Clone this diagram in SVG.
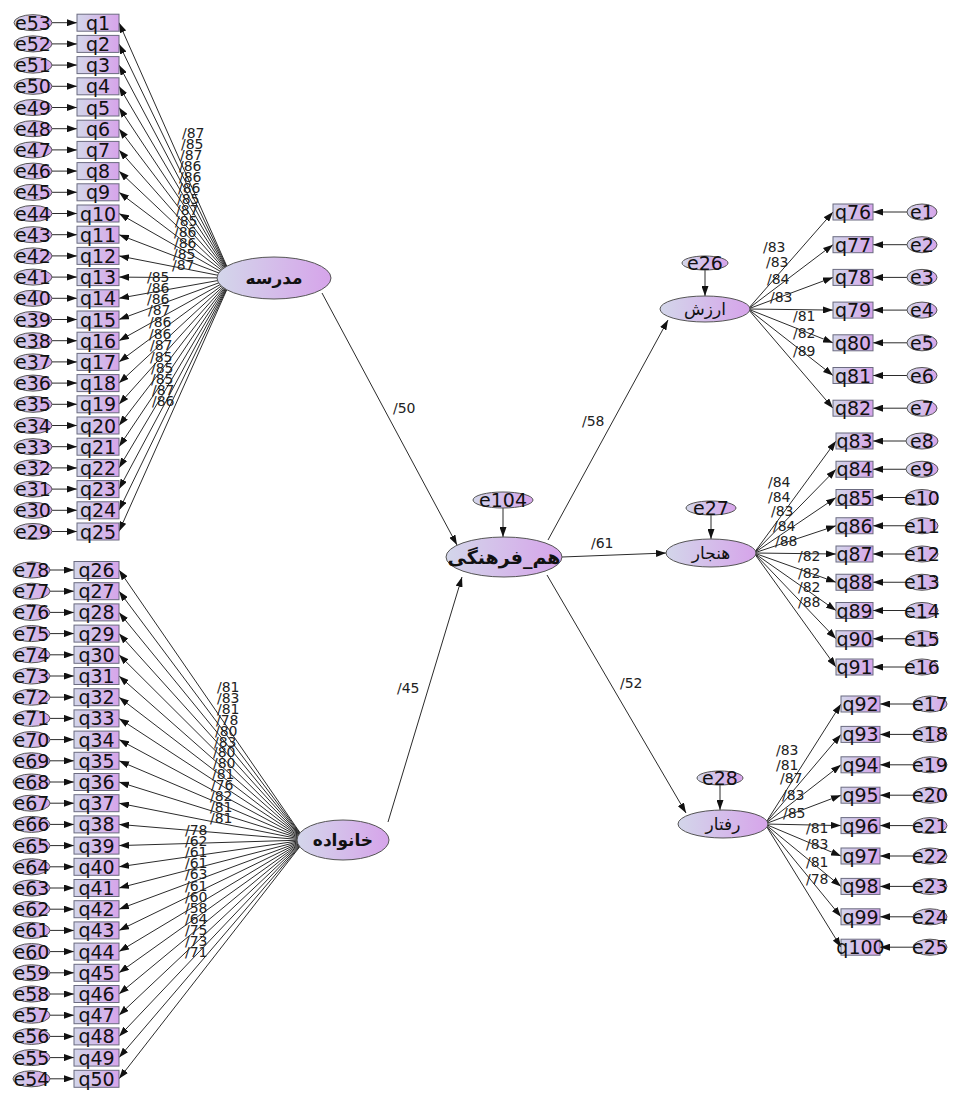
<svg xmlns="http://www.w3.org/2000/svg" width="956" height="1099" viewBox="0 0 956 1099">
<defs>
<linearGradient id="g" x1="0" y1="0" x2="1" y2="0">
<stop offset="0" stop-color="#d3d6ea"/><stop offset="1" stop-color="#d6a4ea"/>
</linearGradient>
<marker id="ah" markerWidth="10" markerHeight="7" refX="10" refY="3.5" orient="auto" markerUnits="userSpaceOnUse"><path d="M0,0L10,3.5L0,7z" fill="#111"/></marker>
</defs>
<style>
.c line{stroke:#2b2b2b;stroke-width:1;marker-end:url(#ah)}
.ob rect{fill:url(#g);stroke:#6b6b80;stroke-width:1}
.ob text,.er text{font-family:"DejaVu Sans",sans-serif;font-size:19px;text-anchor:middle;fill:#111}
.er ellipse,.lv ellipse{fill:url(#g);stroke:#555;stroke-width:1}
.lb text{font-family:"DejaVu Sans",sans-serif;font-size:14px;fill:#222}
.lv text{font-family:"DejaVu Sans",sans-serif;text-anchor:middle;fill:#111}
</style>
<rect width="956" height="1099" fill="#fff"/>
<g id="connectors" class="c">
<!-- top fan -->
<line x1="232" y1="278" x2="119" y2="22.7"/><line x1="232" y1="278" x2="119" y2="43.9"/><line x1="232" y1="278" x2="119" y2="65.1"/><line x1="232" y1="278" x2="119" y2="86.3"/><line x1="232" y1="278" x2="119" y2="107.5"/><line x1="232" y1="278" x2="119" y2="128.7"/><line x1="232" y1="278" x2="119" y2="149.9"/><line x1="232" y1="278" x2="119" y2="171.1"/><line x1="232" y1="278" x2="119" y2="192.3"/><line x1="232" y1="278" x2="119" y2="213.5"/><line x1="232" y1="278" x2="119" y2="234.7"/><line x1="232" y1="278" x2="119" y2="255.9"/><line x1="232" y1="278" x2="119" y2="277.1"/><line x1="232" y1="278" x2="119" y2="298.3"/><line x1="232" y1="278" x2="119" y2="319.5"/><line x1="232" y1="278" x2="119" y2="340.7"/><line x1="232" y1="278" x2="119" y2="361.9"/><line x1="232" y1="278" x2="119" y2="383.1"/><line x1="232" y1="278" x2="119" y2="404.3"/><line x1="232" y1="278" x2="119" y2="425.5"/><line x1="232" y1="278" x2="119" y2="446.7"/><line x1="232" y1="278" x2="119" y2="467.9"/><line x1="232" y1="278" x2="119" y2="489.1"/><line x1="232" y1="278" x2="119" y2="510.3"/><line x1="232" y1="278" x2="119" y2="531.5"/>
<!-- top error arrows -->
<line x1="52" y1="22.7" x2="77" y2="22.7"/><line x1="52" y1="43.9" x2="77" y2="43.9"/><line x1="52" y1="65.1" x2="77" y2="65.1"/><line x1="52" y1="86.3" x2="77" y2="86.3"/><line x1="52" y1="107.5" x2="77" y2="107.5"/><line x1="52" y1="128.7" x2="77" y2="128.7"/><line x1="52" y1="149.9" x2="77" y2="149.9"/><line x1="52" y1="171.1" x2="77" y2="171.1"/><line x1="52" y1="192.3" x2="77" y2="192.3"/><line x1="52" y1="213.5" x2="77" y2="213.5"/><line x1="52" y1="234.7" x2="77" y2="234.7"/><line x1="52" y1="255.9" x2="77" y2="255.9"/><line x1="52" y1="277.1" x2="77" y2="277.1"/><line x1="52" y1="298.3" x2="77" y2="298.3"/><line x1="52" y1="319.5" x2="77" y2="319.5"/><line x1="52" y1="340.7" x2="77" y2="340.7"/><line x1="52" y1="361.9" x2="77" y2="361.9"/><line x1="52" y1="383.1" x2="77" y2="383.1"/><line x1="52" y1="404.3" x2="77" y2="404.3"/><line x1="52" y1="425.5" x2="77" y2="425.5"/><line x1="52" y1="446.7" x2="77" y2="446.7"/><line x1="52" y1="467.9" x2="77" y2="467.9"/><line x1="52" y1="489.1" x2="77" y2="489.1"/><line x1="52" y1="510.3" x2="77" y2="510.3"/><line x1="52" y1="531.5" x2="77" y2="531.5"/>
<!-- bottom fan -->
<line x1="305" y1="840" x2="119" y2="570"/><line x1="305" y1="840" x2="119" y2="591.2"/><line x1="305" y1="840" x2="119" y2="612.4"/><line x1="305" y1="840" x2="119" y2="633.6"/><line x1="305" y1="840" x2="119" y2="654.8"/><line x1="305" y1="840" x2="119" y2="676"/><line x1="305" y1="840" x2="119" y2="697.2"/><line x1="305" y1="840" x2="119" y2="718.4"/><line x1="305" y1="840" x2="119" y2="739.6"/><line x1="305" y1="840" x2="119" y2="760.8"/><line x1="305" y1="840" x2="119" y2="782"/><line x1="305" y1="840" x2="119" y2="803.2"/><line x1="305" y1="840" x2="119" y2="824.4"/><line x1="305" y1="840" x2="119" y2="845.6"/><line x1="305" y1="840" x2="119" y2="866.8"/><line x1="305" y1="840" x2="119" y2="888"/><line x1="305" y1="840" x2="119" y2="909.2"/><line x1="305" y1="840" x2="119" y2="930.4"/><line x1="305" y1="840" x2="119" y2="951.6"/><line x1="305" y1="840" x2="119" y2="972.8"/><line x1="305" y1="840" x2="119" y2="994"/><line x1="305" y1="840" x2="119" y2="1015.2"/><line x1="305" y1="840" x2="119" y2="1036.4"/><line x1="305" y1="840" x2="119" y2="1057.6"/><line x1="305" y1="840" x2="119" y2="1078.8"/>
<!-- bottom error arrows -->
<line x1="50" y1="570" x2="74" y2="570"/><line x1="50" y1="591.2" x2="74" y2="591.2"/><line x1="50" y1="612.4" x2="74" y2="612.4"/><line x1="50" y1="633.6" x2="74" y2="633.6"/><line x1="50" y1="654.8" x2="74" y2="654.8"/><line x1="50" y1="676" x2="74" y2="676"/><line x1="50" y1="697.2" x2="74" y2="697.2"/><line x1="50" y1="718.4" x2="74" y2="718.4"/><line x1="50" y1="739.6" x2="74" y2="739.6"/><line x1="50" y1="760.8" x2="74" y2="760.8"/><line x1="50" y1="782" x2="74" y2="782"/><line x1="50" y1="803.2" x2="74" y2="803.2"/><line x1="50" y1="824.4" x2="74" y2="824.4"/><line x1="50" y1="845.6" x2="74" y2="845.6"/><line x1="50" y1="866.8" x2="74" y2="866.8"/><line x1="50" y1="888" x2="74" y2="888"/><line x1="50" y1="909.2" x2="74" y2="909.2"/><line x1="50" y1="930.4" x2="74" y2="930.4"/><line x1="50" y1="951.6" x2="74" y2="951.6"/><line x1="50" y1="972.8" x2="74" y2="972.8"/><line x1="50" y1="994" x2="74" y2="994"/><line x1="50" y1="1015.2" x2="74" y2="1015.2"/><line x1="50" y1="1036.4" x2="74" y2="1036.4"/><line x1="50" y1="1057.6" x2="74" y2="1057.6"/><line x1="50" y1="1078.8" x2="74" y2="1078.8"/>
<!-- structural paths -->
<line x1="322" y1="293" x2="457" y2="545"/>
<line x1="388" y1="822" x2="462" y2="577"/>
<line x1="548" y1="540" x2="668" y2="320"/>
<line x1="562" y1="557" x2="666" y2="553"/>
<line x1="547" y1="575" x2="686" y2="813"/>
<line x1="503" y1="508" x2="503" y2="537"/>
<line x1="705" y1="270" x2="705" y2="296"/>
<line x1="711" y1="515" x2="711" y2="539"/>
<line x1="720" y1="785" x2="720" y2="810"/>
<!-- right fan 1 -->
<line x1="748" y1="309" x2="833" y2="212"/><line x1="748" y1="309" x2="833" y2="244.7"/><line x1="748" y1="309" x2="833" y2="277.4"/><line x1="748" y1="309" x2="833" y2="310.1"/><line x1="748" y1="309" x2="833" y2="342.8"/><line x1="748" y1="309" x2="833" y2="375.5"/><line x1="748" y1="309" x2="833" y2="408.2"/>
<line x1="907" y1="212" x2="873" y2="212"/><line x1="907" y1="244.7" x2="873" y2="244.7"/><line x1="907" y1="277.4" x2="873" y2="277.4"/><line x1="907" y1="310.1" x2="873" y2="310.1"/><line x1="907" y1="342.8" x2="873" y2="342.8"/><line x1="907" y1="375.5" x2="873" y2="375.5"/><line x1="907" y1="408.2" x2="873" y2="408.2"/>
<!-- right fan 2 -->
<line x1="754" y1="553" x2="836" y2="441"/><line x1="754" y1="553" x2="836" y2="469.25"/><line x1="754" y1="553" x2="836" y2="497.5"/><line x1="754" y1="553" x2="836" y2="525.75"/><line x1="754" y1="553" x2="836" y2="554"/><line x1="754" y1="553" x2="836" y2="582.25"/><line x1="754" y1="553" x2="836" y2="610.5"/><line x1="754" y1="553" x2="836" y2="638.75"/><line x1="754" y1="553" x2="836" y2="667"/>
<line x1="906" y1="441" x2="873" y2="441"/><line x1="906" y1="469.25" x2="873" y2="469.25"/><line x1="906" y1="497.5" x2="873" y2="497.5"/><line x1="906" y1="525.75" x2="873" y2="525.75"/><line x1="906" y1="554" x2="873" y2="554"/><line x1="906" y1="582.25" x2="873" y2="582.25"/><line x1="906" y1="610.5" x2="873" y2="610.5"/><line x1="906" y1="638.75" x2="873" y2="638.75"/><line x1="906" y1="667" x2="873" y2="667"/>
<!-- right fan 3 -->
<line x1="765" y1="824" x2="841" y2="704"/><line x1="765" y1="824" x2="841" y2="734.4"/><line x1="765" y1="824" x2="841" y2="764.8"/><line x1="765" y1="824" x2="841" y2="795.2"/><line x1="765" y1="824" x2="841" y2="825.6"/><line x1="765" y1="824" x2="841" y2="856"/><line x1="765" y1="824" x2="841" y2="886.4"/><line x1="765" y1="824" x2="841" y2="916.8"/><line x1="765" y1="824" x2="841" y2="947.2"/>
<line x1="913" y1="704" x2="880" y2="704"/><line x1="913" y1="734.4" x2="880" y2="734.4"/><line x1="913" y1="764.8" x2="880" y2="764.8"/><line x1="913" y1="795.2" x2="880" y2="795.2"/><line x1="913" y1="825.6" x2="880" y2="825.6"/><line x1="913" y1="856" x2="880" y2="856"/><line x1="913" y1="886.4" x2="880" y2="886.4"/><line x1="913" y1="916.8" x2="880" y2="916.8"/><line x1="913" y1="947.2" x2="880" y2="947.2"/>
<g class="lb">
<text x="182" y="138">/87</text><text x="181" y="149">/85</text><text x="180" y="160">/87</text><text x="179" y="171">/86</text><text x="179" y="182">/86</text><text x="178" y="193">/86</text><text x="177" y="204">/85</text><text x="176" y="215">/87</text><text x="175" y="226">/85</text><text x="174" y="237">/86</text><text x="174" y="248">/86</text><text x="173" y="259">/85</text><text x="172" y="270">/87</text>
<text x="147" y="282">/85</text><text x="147" y="293">/86</text><text x="147" y="304">/86</text><text x="148" y="315">/87</text><text x="149" y="327">/86</text><text x="149" y="339">/86</text><text x="150" y="350">/87</text><text x="150" y="362">/85</text><text x="151" y="373">/85</text><text x="151" y="384">/85</text><text x="152" y="395">/87</text><text x="152" y="406">/86</text>
<text x="217" y="692">/81</text><text x="217" y="703">/83</text><text x="217" y="714">/81</text><text x="216" y="725">/78</text><text x="215" y="736">/80</text><text x="214" y="747">/83</text><text x="213" y="757">/80</text><text x="213" y="768">/80</text><text x="212" y="779">/81</text><text x="211" y="790">/76</text><text x="210" y="801">/82</text><text x="210" y="812">/81</text><text x="210" y="823">/81</text>
<text x="185" y="835">/78</text><text x="185" y="846">/62</text><text x="185" y="857">/61</text><text x="185" y="868">/61</text><text x="185" y="879">/63</text><text x="185" y="891">/61</text><text x="185" y="902">/60</text><text x="185" y="913">/58</text><text x="185" y="924">/64</text><text x="185" y="935">/75</text><text x="185" y="946">/73</text><text x="185" y="957">/71</text>
<text x="393" y="413">/50</text><text x="397" y="693">/45</text><text x="582" y="426">/58</text><text x="591" y="548">/61</text><text x="620" y="688">/52</text>
<text x="763" y="252">/83</text><text x="766" y="267">/83</text><text x="767" y="284">/84</text><text x="770" y="302">/83</text><text x="793" y="321">/81</text><text x="793" y="338">/82</text><text x="793" y="356">/89</text>
<text x="768" y="487">/84</text><text x="768" y="502">/84</text><text x="771" y="516">/83</text><text x="773" y="531">/84</text><text x="775" y="546">/88</text><text x="798" y="561">/82</text><text x="798" y="578">/82</text><text x="798" y="592">/82</text><text x="798" y="607">/88</text>
<text x="776" y="755">/83</text><text x="776" y="770">/81</text><text x="780" y="783">/87</text><text x="782" y="800">/83</text><text x="783" y="818">/85</text><text x="806" y="833">/81</text><text x="806" y="849">/83</text><text x="806" y="867">/81</text><text x="806" y="884">/78</text>
</g>
</g>
<!-- latent variables -->
<g id="madrese" class="lv"><ellipse cx="274" cy="278" rx="57" ry="21"/><text x="274" y="284" font-size="17" font-weight="bold">مدرسه</text></g>
<g id="khanevade" class="lv"><ellipse cx="343" cy="840" rx="46" ry="20"/><text x="343" y="846" font-size="17" font-weight="bold">خانواده</text></g>
<g id="hamfarhangi" class="lv"><ellipse cx="504" cy="557" rx="58" ry="20"/><text x="504" y="564" font-size="19" font-weight="bold">هم_فرهنگی</text></g>
<g id="arzesh" class="lv"><ellipse cx="705" cy="309" rx="45" ry="13"/><text x="705" y="315" font-size="17">ارزش</text></g>
<g id="hanjar" class="lv"><ellipse cx="711" cy="553" rx="45" ry="14"/><text x="711" y="559" font-size="17">هنجار</text></g>
<g id="raftar" class="lv"><ellipse cx="723" cy="824" rx="45" ry="14"/><text x="723" y="830" font-size="17">رفتار</text></g>
<g id="e104" class="er"><ellipse cx="503" cy="500" rx="30" ry="8"/><text x="503" y="507">e104</text></g>
<g id="e26" class="er"><ellipse cx="705" cy="263" rx="23" ry="7"/><text x="705" y="270">e26</text></g>
<g id="e27" class="er"><ellipse cx="711" cy="508" rx="25" ry="7"/><text x="711" y="515">e27</text></g>
<g id="e28" class="er"><ellipse cx="720" cy="778" rx="23" ry="7"/><text x="720" y="785">e28</text></g>
<!-- top observed -->
<g id="q1" class="ob" transform="translate(77,22.7)"><rect y="-8.5" width="42" height="17"/><text x="21" y="7">q1</text></g>
<g id="q2" class="ob" transform="translate(77,43.9)"><rect y="-8.5" width="42" height="17"/><text x="21" y="7">q2</text></g>
<g id="q3" class="ob" transform="translate(77,65.1)"><rect y="-8.5" width="42" height="17"/><text x="21" y="7">q3</text></g>
<g id="q4" class="ob" transform="translate(77,86.3)"><rect y="-8.5" width="42" height="17"/><text x="21" y="7">q4</text></g>
<g id="q5" class="ob" transform="translate(77,107.5)"><rect y="-8.5" width="42" height="17"/><text x="21" y="7">q5</text></g>
<g id="q6" class="ob" transform="translate(77,128.7)"><rect y="-8.5" width="42" height="17"/><text x="21" y="7">q6</text></g>
<g id="q7" class="ob" transform="translate(77,149.9)"><rect y="-8.5" width="42" height="17"/><text x="21" y="7">q7</text></g>
<g id="q8" class="ob" transform="translate(77,171.1)"><rect y="-8.5" width="42" height="17"/><text x="21" y="7">q8</text></g>
<g id="q9" class="ob" transform="translate(77,192.3)"><rect y="-8.5" width="42" height="17"/><text x="21" y="7">q9</text></g>
<g id="q10" class="ob" transform="translate(77,213.5)"><rect y="-8.5" width="42" height="17"/><text x="21" y="7">q10</text></g>
<g id="q11" class="ob" transform="translate(77,234.7)"><rect y="-8.5" width="42" height="17"/><text x="21" y="7">q11</text></g>
<g id="q12" class="ob" transform="translate(77,255.9)"><rect y="-8.5" width="42" height="17"/><text x="21" y="7">q12</text></g>
<g id="q13" class="ob" transform="translate(77,277.1)"><rect y="-8.5" width="42" height="17"/><text x="21" y="7">q13</text></g>
<g id="q14" class="ob" transform="translate(77,298.3)"><rect y="-8.5" width="42" height="17"/><text x="21" y="7">q14</text></g>
<g id="q15" class="ob" transform="translate(77,319.5)"><rect y="-8.5" width="42" height="17"/><text x="21" y="7">q15</text></g>
<g id="q16" class="ob" transform="translate(77,340.7)"><rect y="-8.5" width="42" height="17"/><text x="21" y="7">q16</text></g>
<g id="q17" class="ob" transform="translate(77,361.9)"><rect y="-8.5" width="42" height="17"/><text x="21" y="7">q17</text></g>
<g id="q18" class="ob" transform="translate(77,383.1)"><rect y="-8.5" width="42" height="17"/><text x="21" y="7">q18</text></g>
<g id="q19" class="ob" transform="translate(77,404.3)"><rect y="-8.5" width="42" height="17"/><text x="21" y="7">q19</text></g>
<g id="q20" class="ob" transform="translate(77,425.5)"><rect y="-8.5" width="42" height="17"/><text x="21" y="7">q20</text></g>
<g id="q21" class="ob" transform="translate(77,446.7)"><rect y="-8.5" width="42" height="17"/><text x="21" y="7">q21</text></g>
<g id="q22" class="ob" transform="translate(77,467.9)"><rect y="-8.5" width="42" height="17"/><text x="21" y="7">q22</text></g>
<g id="q23" class="ob" transform="translate(77,489.1)"><rect y="-8.5" width="42" height="17"/><text x="21" y="7">q23</text></g>
<g id="q24" class="ob" transform="translate(77,510.3)"><rect y="-8.5" width="42" height="17"/><text x="21" y="7">q24</text></g>
<g id="q25" class="ob" transform="translate(77,531.5)"><rect y="-8.5" width="42" height="17"/><text x="21" y="7">q25</text></g>
<!-- top errors -->
<g id="e53" class="er" transform="translate(33,22.7)"><ellipse rx="19" ry="8"/><text y="7">e53</text></g>
<g id="e52" class="er" transform="translate(33,43.9)"><ellipse rx="19" ry="8"/><text y="7">e52</text></g>
<g id="e51" class="er" transform="translate(33,65.1)"><ellipse rx="19" ry="8"/><text y="7">e51</text></g>
<g id="e50" class="er" transform="translate(33,86.3)"><ellipse rx="19" ry="8"/><text y="7">e50</text></g>
<g id="e49" class="er" transform="translate(33,107.5)"><ellipse rx="19" ry="8"/><text y="7">e49</text></g>
<g id="e48" class="er" transform="translate(33,128.7)"><ellipse rx="19" ry="8"/><text y="7">e48</text></g>
<g id="e47" class="er" transform="translate(33,149.9)"><ellipse rx="19" ry="8"/><text y="7">e47</text></g>
<g id="e46" class="er" transform="translate(33,171.1)"><ellipse rx="19" ry="8"/><text y="7">e46</text></g>
<g id="e45" class="er" transform="translate(33,192.3)"><ellipse rx="19" ry="8"/><text y="7">e45</text></g>
<g id="e44" class="er" transform="translate(33,213.5)"><ellipse rx="19" ry="8"/><text y="7">e44</text></g>
<g id="e43" class="er" transform="translate(33,234.7)"><ellipse rx="19" ry="8"/><text y="7">e43</text></g>
<g id="e42" class="er" transform="translate(33,255.9)"><ellipse rx="19" ry="8"/><text y="7">e42</text></g>
<g id="e41" class="er" transform="translate(33,277.1)"><ellipse rx="19" ry="8"/><text y="7">e41</text></g>
<g id="e40" class="er" transform="translate(33,298.3)"><ellipse rx="19" ry="8"/><text y="7">e40</text></g>
<g id="e39" class="er" transform="translate(33,319.5)"><ellipse rx="19" ry="8"/><text y="7">e39</text></g>
<g id="e38" class="er" transform="translate(33,340.7)"><ellipse rx="19" ry="8"/><text y="7">e38</text></g>
<g id="e37" class="er" transform="translate(33,361.9)"><ellipse rx="19" ry="8"/><text y="7">e37</text></g>
<g id="e36" class="er" transform="translate(33,383.1)"><ellipse rx="19" ry="8"/><text y="7">e36</text></g>
<g id="e35" class="er" transform="translate(33,404.3)"><ellipse rx="19" ry="8"/><text y="7">e35</text></g>
<g id="e34" class="er" transform="translate(33,425.5)"><ellipse rx="19" ry="8"/><text y="7">e34</text></g>
<g id="e33" class="er" transform="translate(33,446.7)"><ellipse rx="19" ry="8"/><text y="7">e33</text></g>
<g id="e32" class="er" transform="translate(33,467.9)"><ellipse rx="19" ry="8"/><text y="7">e32</text></g>
<g id="e31" class="er" transform="translate(33,489.1)"><ellipse rx="19" ry="8"/><text y="7">e31</text></g>
<g id="e30" class="er" transform="translate(33,510.3)"><ellipse rx="19" ry="8"/><text y="7">e30</text></g>
<g id="e29" class="er" transform="translate(33,531.5)"><ellipse rx="19" ry="8"/><text y="7">e29</text></g>
<!-- bottom observed -->
<g id="q26" class="ob" transform="translate(74,570)"><rect y="-8.5" width="45" height="17"/><text x="22.5" y="7">q26</text></g>
<g id="q27" class="ob" transform="translate(74,591.2)"><rect y="-8.5" width="45" height="17"/><text x="22.5" y="7">q27</text></g>
<g id="q28" class="ob" transform="translate(74,612.4)"><rect y="-8.5" width="45" height="17"/><text x="22.5" y="7">q28</text></g>
<g id="q29" class="ob" transform="translate(74,633.6)"><rect y="-8.5" width="45" height="17"/><text x="22.5" y="7">q29</text></g>
<g id="q30" class="ob" transform="translate(74,654.8)"><rect y="-8.5" width="45" height="17"/><text x="22.5" y="7">q30</text></g>
<g id="q31" class="ob" transform="translate(74,676)"><rect y="-8.5" width="45" height="17"/><text x="22.5" y="7">q31</text></g>
<g id="q32" class="ob" transform="translate(74,697.2)"><rect y="-8.5" width="45" height="17"/><text x="22.5" y="7">q32</text></g>
<g id="q33" class="ob" transform="translate(74,718.4)"><rect y="-8.5" width="45" height="17"/><text x="22.5" y="7">q33</text></g>
<g id="q34" class="ob" transform="translate(74,739.6)"><rect y="-8.5" width="45" height="17"/><text x="22.5" y="7">q34</text></g>
<g id="q35" class="ob" transform="translate(74,760.8)"><rect y="-8.5" width="45" height="17"/><text x="22.5" y="7">q35</text></g>
<g id="q36" class="ob" transform="translate(74,782)"><rect y="-8.5" width="45" height="17"/><text x="22.5" y="7">q36</text></g>
<g id="q37" class="ob" transform="translate(74,803.2)"><rect y="-8.5" width="45" height="17"/><text x="22.5" y="7">q37</text></g>
<g id="q38" class="ob" transform="translate(74,824.4)"><rect y="-8.5" width="45" height="17"/><text x="22.5" y="7">q38</text></g>
<g id="q39" class="ob" transform="translate(74,845.6)"><rect y="-8.5" width="45" height="17"/><text x="22.5" y="7">q39</text></g>
<g id="q40" class="ob" transform="translate(74,866.8)"><rect y="-8.5" width="45" height="17"/><text x="22.5" y="7">q40</text></g>
<g id="q41" class="ob" transform="translate(74,888)"><rect y="-8.5" width="45" height="17"/><text x="22.5" y="7">q41</text></g>
<g id="q42" class="ob" transform="translate(74,909.2)"><rect y="-8.5" width="45" height="17"/><text x="22.5" y="7">q42</text></g>
<g id="q43" class="ob" transform="translate(74,930.4)"><rect y="-8.5" width="45" height="17"/><text x="22.5" y="7">q43</text></g>
<g id="q44" class="ob" transform="translate(74,951.6)"><rect y="-8.5" width="45" height="17"/><text x="22.5" y="7">q44</text></g>
<g id="q45" class="ob" transform="translate(74,972.8)"><rect y="-8.5" width="45" height="17"/><text x="22.5" y="7">q45</text></g>
<g id="q46" class="ob" transform="translate(74,994)"><rect y="-8.5" width="45" height="17"/><text x="22.5" y="7">q46</text></g>
<g id="q47" class="ob" transform="translate(74,1015.2)"><rect y="-8.5" width="45" height="17"/><text x="22.5" y="7">q47</text></g>
<g id="q48" class="ob" transform="translate(74,1036.4)"><rect y="-8.5" width="45" height="17"/><text x="22.5" y="7">q48</text></g>
<g id="q49" class="ob" transform="translate(74,1057.6)"><rect y="-8.5" width="45" height="17"/><text x="22.5" y="7">q49</text></g>
<g id="q50" class="ob" transform="translate(74,1078.8)"><rect y="-8.5" width="45" height="17"/><text x="22.5" y="7">q50</text></g>
<!-- bottom errors -->
<g id="e78" class="er" transform="translate(31.5,570)"><ellipse rx="18.5" ry="8"/><text y="7">e78</text></g>
<g id="e77" class="er" transform="translate(31.5,591.2)"><ellipse rx="18.5" ry="8"/><text y="7">e77</text></g>
<g id="e76" class="er" transform="translate(31.5,612.4)"><ellipse rx="18.5" ry="8"/><text y="7">e76</text></g>
<g id="e75" class="er" transform="translate(31.5,633.6)"><ellipse rx="18.5" ry="8"/><text y="7">e75</text></g>
<g id="e74" class="er" transform="translate(31.5,654.8)"><ellipse rx="18.5" ry="8"/><text y="7">e74</text></g>
<g id="e73" class="er" transform="translate(31.5,676)"><ellipse rx="18.5" ry="8"/><text y="7">e73</text></g>
<g id="e72" class="er" transform="translate(31.5,697.2)"><ellipse rx="18.5" ry="8"/><text y="7">e72</text></g>
<g id="e71" class="er" transform="translate(31.5,718.4)"><ellipse rx="18.5" ry="8"/><text y="7">e71</text></g>
<g id="e70" class="er" transform="translate(31.5,739.6)"><ellipse rx="18.5" ry="8"/><text y="7">e70</text></g>
<g id="e69" class="er" transform="translate(31.5,760.8)"><ellipse rx="18.5" ry="8"/><text y="7">e69</text></g>
<g id="e68" class="er" transform="translate(31.5,782)"><ellipse rx="18.5" ry="8"/><text y="7">e68</text></g>
<g id="e67" class="er" transform="translate(31.5,803.2)"><ellipse rx="18.5" ry="8"/><text y="7">e67</text></g>
<g id="e66" class="er" transform="translate(31.5,824.4)"><ellipse rx="18.5" ry="8"/><text y="7">e66</text></g>
<g id="e65" class="er" transform="translate(31.5,845.6)"><ellipse rx="18.5" ry="8"/><text y="7">e65</text></g>
<g id="e64" class="er" transform="translate(31.5,866.8)"><ellipse rx="18.5" ry="8"/><text y="7">e64</text></g>
<g id="e63" class="er" transform="translate(31.5,888)"><ellipse rx="18.5" ry="8"/><text y="7">e63</text></g>
<g id="e62" class="er" transform="translate(31.5,909.2)"><ellipse rx="18.5" ry="8"/><text y="7">e62</text></g>
<g id="e61" class="er" transform="translate(31.5,930.4)"><ellipse rx="18.5" ry="8"/><text y="7">e61</text></g>
<g id="e60" class="er" transform="translate(31.5,951.6)"><ellipse rx="18.5" ry="8"/><text y="7">e60</text></g>
<g id="e59" class="er" transform="translate(31.5,972.8)"><ellipse rx="18.5" ry="8"/><text y="7">e59</text></g>
<g id="e58" class="er" transform="translate(31.5,994)"><ellipse rx="18.5" ry="8"/><text y="7">e58</text></g>
<g id="e57" class="er" transform="translate(31.5,1015.2)"><ellipse rx="18.5" ry="8"/><text y="7">e57</text></g>
<g id="e56" class="er" transform="translate(31.5,1036.4)"><ellipse rx="18.5" ry="8"/><text y="7">e56</text></g>
<g id="e55" class="er" transform="translate(31.5,1057.6)"><ellipse rx="18.5" ry="8"/><text y="7">e55</text></g>
<g id="e54" class="er" transform="translate(31.5,1078.8)"><ellipse rx="18.5" ry="8"/><text y="7">e54</text></g>
<!-- right observed: arzesh -->
<g id="q76" class="ob" transform="translate(833,212)"><rect y="-8" width="40" height="16"/><text x="20" y="7">q76</text></g>
<g id="q77" class="ob" transform="translate(833,244.7)"><rect y="-8" width="40" height="16"/><text x="20" y="7">q77</text></g>
<g id="q78" class="ob" transform="translate(833,277.4)"><rect y="-8" width="40" height="16"/><text x="20" y="7">q78</text></g>
<g id="q79" class="ob" transform="translate(833,310.1)"><rect y="-8" width="40" height="16"/><text x="20" y="7">q79</text></g>
<g id="q80" class="ob" transform="translate(833,342.8)"><rect y="-8" width="40" height="16"/><text x="20" y="7">q80</text></g>
<g id="q81" class="ob" transform="translate(833,375.5)"><rect y="-8" width="40" height="16"/><text x="20" y="7">q81</text></g>
<g id="q82" class="ob" transform="translate(833,408.2)"><rect y="-8" width="40" height="16"/><text x="20" y="7">q82</text></g>
<g id="e1" class="er" transform="translate(922,212)"><ellipse rx="15" ry="8"/><text y="7">e1</text></g>
<g id="e2" class="er" transform="translate(922,244.7)"><ellipse rx="15" ry="8"/><text y="7">e2</text></g>
<g id="e3" class="er" transform="translate(922,277.4)"><ellipse rx="15" ry="8"/><text y="7">e3</text></g>
<g id="e4" class="er" transform="translate(922,310.1)"><ellipse rx="15" ry="8"/><text y="7">e4</text></g>
<g id="e5" class="er" transform="translate(922,342.8)"><ellipse rx="15" ry="8"/><text y="7">e5</text></g>
<g id="e6" class="er" transform="translate(922,375.5)"><ellipse rx="15" ry="8"/><text y="7">e6</text></g>
<g id="e7" class="er" transform="translate(922,408.2)"><ellipse rx="15" ry="8"/><text y="7">e7</text></g>
<!-- right observed: hanjar -->
<g id="q83" class="ob" transform="translate(836,441)"><rect y="-8" width="37" height="16"/><text x="18.5" y="7">q83</text></g>
<g id="q84" class="ob" transform="translate(836,469.25)"><rect y="-8" width="37" height="16"/><text x="18.5" y="7">q84</text></g>
<g id="q85" class="ob" transform="translate(836,497.5)"><rect y="-8" width="37" height="16"/><text x="18.5" y="7">q85</text></g>
<g id="q86" class="ob" transform="translate(836,525.75)"><rect y="-8" width="37" height="16"/><text x="18.5" y="7">q86</text></g>
<g id="q87" class="ob" transform="translate(836,554)"><rect y="-8" width="37" height="16"/><text x="18.5" y="7">q87</text></g>
<g id="q88" class="ob" transform="translate(836,582.25)"><rect y="-8" width="37" height="16"/><text x="18.5" y="7">q88</text></g>
<g id="q89" class="ob" transform="translate(836,610.5)"><rect y="-8" width="37" height="16"/><text x="18.5" y="7">q89</text></g>
<g id="q90" class="ob" transform="translate(836,638.75)"><rect y="-8" width="37" height="16"/><text x="18.5" y="7">q90</text></g>
<g id="q91" class="ob" transform="translate(836,667)"><rect y="-8" width="37" height="16"/><text x="18.5" y="7">q91</text></g>
<g id="e8" class="er" transform="translate(922,441)"><ellipse rx="16" ry="8"/><text y="7">e8</text></g>
<g id="e9" class="er" transform="translate(922,469.25)"><ellipse rx="16" ry="8"/><text y="7">e9</text></g>
<g id="e10" class="er" transform="translate(922,497.5)"><ellipse rx="16" ry="8"/><text y="7">e10</text></g>
<g id="e11" class="er" transform="translate(922,525.75)"><ellipse rx="16" ry="8"/><text y="7">e11</text></g>
<g id="e12" class="er" transform="translate(922,554)"><ellipse rx="16" ry="8"/><text y="7">e12</text></g>
<g id="e13" class="er" transform="translate(922,582.25)"><ellipse rx="16" ry="8"/><text y="7">e13</text></g>
<g id="e14" class="er" transform="translate(922,610.5)"><ellipse rx="16" ry="8"/><text y="7">e14</text></g>
<g id="e15" class="er" transform="translate(922,638.75)"><ellipse rx="16" ry="8"/><text y="7">e15</text></g>
<g id="e16" class="er" transform="translate(922,667)"><ellipse rx="16" ry="8"/><text y="7">e16</text></g>
<!-- right observed: raftar -->
<g id="q92" class="ob" transform="translate(841,704)"><rect y="-8" width="39" height="16"/><text x="19.5" y="7">q92</text></g>
<g id="q93" class="ob" transform="translate(841,734.4)"><rect y="-8" width="39" height="16"/><text x="19.5" y="7">q93</text></g>
<g id="q94" class="ob" transform="translate(841,764.8)"><rect y="-8" width="39" height="16"/><text x="19.5" y="7">q94</text></g>
<g id="q95" class="ob" transform="translate(841,795.2)"><rect y="-8" width="39" height="16"/><text x="19.5" y="7">q95</text></g>
<g id="q96" class="ob" transform="translate(841,825.6)"><rect y="-8" width="39" height="16"/><text x="19.5" y="7">q96</text></g>
<g id="q97" class="ob" transform="translate(841,856)"><rect y="-8" width="39" height="16"/><text x="19.5" y="7">q97</text></g>
<g id="q98" class="ob" transform="translate(841,886.4)"><rect y="-8" width="39" height="16"/><text x="19.5" y="7">q98</text></g>
<g id="q99" class="ob" transform="translate(841,916.8)"><rect y="-8" width="39" height="16"/><text x="19.5" y="7">q99</text></g>
<g id="q100" class="ob" transform="translate(841,947.2)"><rect y="-8" width="39" height="16"/><text x="19.5" y="7">q100</text></g>
<g id="e17" class="er" transform="translate(930,704)"><ellipse rx="17" ry="8"/><text y="7">e17</text></g>
<g id="e18" class="er" transform="translate(930,734.4)"><ellipse rx="17" ry="8"/><text y="7">e18</text></g>
<g id="e19" class="er" transform="translate(930,764.8)"><ellipse rx="17" ry="8"/><text y="7">e19</text></g>
<g id="e20" class="er" transform="translate(930,795.2)"><ellipse rx="17" ry="8"/><text y="7">e20</text></g>
<g id="e21" class="er" transform="translate(930,825.6)"><ellipse rx="17" ry="8"/><text y="7">e21</text></g>
<g id="e22" class="er" transform="translate(930,856)"><ellipse rx="17" ry="8"/><text y="7">e22</text></g>
<g id="e23" class="er" transform="translate(930,886.4)"><ellipse rx="17" ry="8"/><text y="7">e23</text></g>
<g id="e24" class="er" transform="translate(930,916.8)"><ellipse rx="17" ry="8"/><text y="7">e24</text></g>
<g id="e25" class="er" transform="translate(930,947.2)"><ellipse rx="17" ry="8"/><text y="7">e25</text></g>
</svg>
